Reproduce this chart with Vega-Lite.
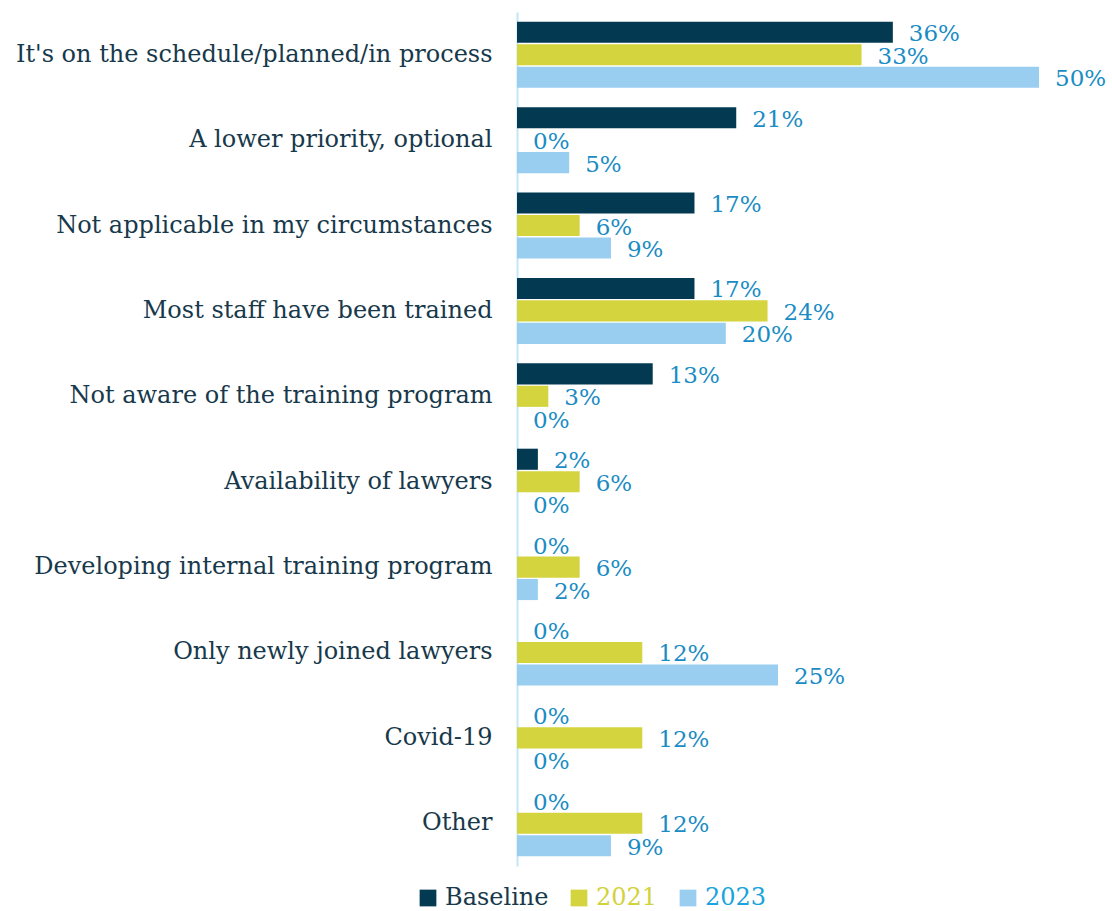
{
  "$schema": "https://vega.github.io/schema/vega-lite/v6.json",
  "width": 522,
  "height": 854,
  "padding": {"top": 12, "left": 0, "right": 0, "bottom": 0},
  "background": "white",
  "config": {"view": {"stroke": null}, "font": "DejaVu Serif"},
  "data": {"values": [
    {"cat": "It's on the schedule/planned/in process", "series": "Baseline", "value": 36},
    {"cat": "It's on the schedule/planned/in process", "series": "2021", "value": 33},
    {"cat": "It's on the schedule/planned/in process", "series": "2023", "value": 50},
    {"cat": "A lower priority, optional", "series": "Baseline", "value": 21},
    {"cat": "A lower priority, optional", "series": "2021", "value": 0},
    {"cat": "A lower priority, optional", "series": "2023", "value": 5},
    {"cat": "Not applicable in my circumstances ", "series": "Baseline", "value": 17},
    {"cat": "Not applicable in my circumstances ", "series": "2021", "value": 6},
    {"cat": "Not applicable in my circumstances ", "series": "2023", "value": 9},
    {"cat": "Most staff have been trained", "series": "Baseline", "value": 17},
    {"cat": "Most staff have been trained", "series": "2021", "value": 24},
    {"cat": "Most staff have been trained", "series": "2023", "value": 20},
    {"cat": "Not aware of the training program", "series": "Baseline", "value": 13},
    {"cat": "Not aware of the training program", "series": "2021", "value": 3},
    {"cat": "Not aware of the training program", "series": "2023", "value": 0},
    {"cat": "Availability of lawyers", "series": "Baseline", "value": 2},
    {"cat": "Availability of lawyers", "series": "2021", "value": 6},
    {"cat": "Availability of lawyers", "series": "2023", "value": 0},
    {"cat": "Developing internal training program", "series": "Baseline", "value": 0},
    {"cat": "Developing internal training program", "series": "2021", "value": 6},
    {"cat": "Developing internal training program", "series": "2023", "value": 2},
    {"cat": "Only newly joined lawyers", "series": "Baseline", "value": 0},
    {"cat": "Only newly joined lawyers", "series": "2021", "value": 12},
    {"cat": "Only newly joined lawyers", "series": "2023", "value": 25},
    {"cat": "Covid-19", "series": "Baseline", "value": 0},
    {"cat": "Covid-19", "series": "2021", "value": 12},
    {"cat": "Covid-19", "series": "2023", "value": 0},
    {"cat": "Other", "series": "Baseline", "value": 0},
    {"cat": "Other", "series": "2021", "value": 12},
    {"cat": "Other", "series": "2023", "value": 9}
  ]},
  "encoding": {
    "y": {
      "field": "cat", "type": "nominal", "sort": null, "title": null,
      "scale": {"paddingInner": 0.227, "paddingOuter": 0.114},
      "axis": {
        "domainColor": "#C5E6F7", "domainWidth": 2, "ticks": false,
        "labelFontSize": 24, "labelColor": "#17394B", "labelPadding": 25,
        "labelFont": "DejaVu Serif", "labelLimit": 600,
        "minExtent": 517, "maxExtent": 517
      }
    },
    "yOffset": {
      "field": "series", "type": "nominal", "sort": ["Baseline", "2021", "2023"],
      "scale": {"paddingInner": 0.06}
    },
    "x": {
      "field": "value", "type": "quantitative", "title": null,
      "scale": {"domain": [0, 50]}, "axis": null
    }
  },
  "layer": [
    {
      "mark": {"type": "bar"},
      "encoding": {
        "color": {
          "field": "series", "type": "nominal", "sort": ["Baseline", "2021", "2023"],
          "scale": {"domain": ["Baseline", "2021", "2023"], "range": ["#033A52", "#D4D43F", "#99CEF0"]},
          "legend": {
            "title": null, "orient": "none", "direction": "horizontal",
            "legendX": -101, "legendY": 874,
            "symbolType": "square", "symbolSize": 280, "symbolStrokeWidth": 0,
            "labelFontSize": 24, "labelFont": "DejaVu Serif", "columnPadding": 18, "labelOffset": 5,
            "encode": {"labels": {"update": {"fill": {"signal": "datum.label === 'Baseline' ? '#17394B' : datum.label === '2021' ? '#D2D23C' : '#1AA3DC'"}}}}
          }
        }
      }
    },
    {
      "transform": [{"calculate": "datum.value + '%'", "as": "label"}],
      "mark": {"type": "text", "align": "left", "baseline": "middle", "dx": 16, "dy": 2, "fontSize": 23, "color": "#1A8CC4", "font": "DejaVu Serif"},
      "encoding": {
        "text": {"field": "label", "type": "nominal"},
        "detail": {"field": "series"}
      }
    }
  ]
}
